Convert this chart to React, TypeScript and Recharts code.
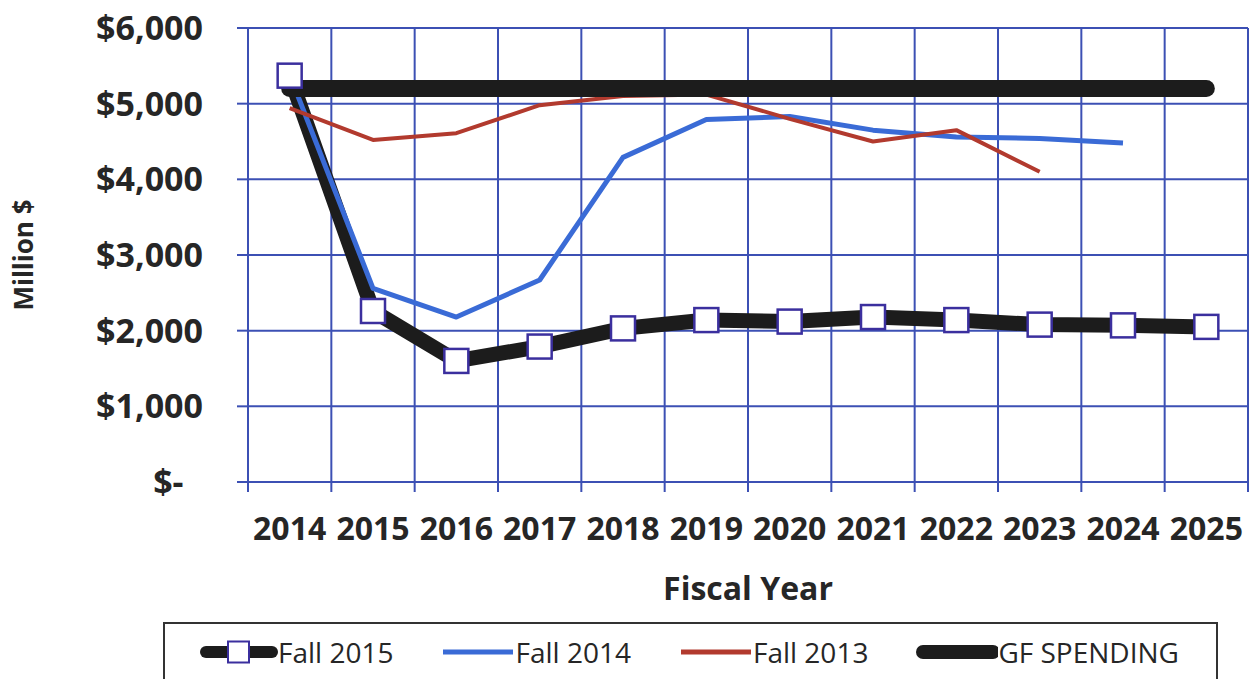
import React from "react";
import {
  LineChart,
  Line,
  XAxis,
  YAxis,
  CartesianGrid,
  Legend,
} from "recharts";

const years = ["2014", "2015", "2016", "2017", "2018", "2019", "2020", "2021", "2022", "2023", "2024", "2025"];
const fall2015 = [5370, 2260, 1600, 1790, 2030, 2140, 2120, 2180, 2140, 2080, 2070, 2050];
const fall2014 = [5380, 2560, 2180, 2670, 4290, 4790, 4830, 4650, 4560, 4540, 4480, null];
const fall2013 = [4940, 4520, 4610, 4980, 5100, 5120, 4800, 4500, 4650, 4100, null, null];
const gfSpending = [5200, 5200, 5200, 5200, 5200, 5200, 5200, 5200, 5200, 5200, 5200, 5200];
const yTicks = [0, 1000, 2000, 3000, 4000, 5000, 6000];
const seriesNames = ["Fall 2015", "Fall 2014", "Fall 2013", "GF SPENDING"];

const data = years.map((year, i) => ({
  year,
  slot: i + 0.5,
  "Fall 2015": fall2015[i],
  "Fall 2014": fall2014[i],
  "Fall 2013": fall2013[i],
  "GF SPENDING": gfSpending[i],
}));

// boundaries between the year categories, for the grid and tick marks
const gridTicks = years.map((_, i) => i).concat(years.length);

const FONT = "'Open Sans', sans-serif";
const GRID = "#3c50b4";
const BLUE = "#3a6bd6";
const RED = "#b23a2e";
const BLACK = "#1c1c1c";
const MARKER = "#3b2f9e";
const TEXT = "#262626";

const formatMoney = (v: number) =>
  v === 0 ? "$-\u2007" : "$" + v.toLocaleString("en-US");

const NoLabel = () => <g />;

const SquareDot = (props: any) => {
  const { cx, cy, index } = props;
  if (cx == null || cy == null) return null;
  return (
    <rect
      key={"sq" + index}
      x={cx - 12}
      y={cy - 12}
      width={24}
      height={24}
      fill="#ffffff"
      stroke={MARKER}
      strokeWidth={2.5}
    />
  );
};

const legendIcon = (name: string) => {
  if (name === "Fall 2015") {
    return (
      <svg width={78} height={26}>
        <line x1={6} y1={13} x2={72} y2={13} stroke={BLACK} strokeWidth={12} strokeLinecap="round" />
        <rect x={28} y={2.5} width={21} height={21} fill="#fff" stroke={MARKER} strokeWidth={2} />
      </svg>
    );
  }
  if (name === "GF SPENDING") {
    return (
      <svg width={82} height={26}>
        <line x1={7} y1={13} x2={77} y2={13} stroke={BLACK} strokeWidth={14} strokeLinecap="round" />
      </svg>
    );
  }
  return (
    <svg width={74} height={26}>
      <line x1={2} y1={13} x2={72} y2={13} stroke={name === "Fall 2014" ? BLUE : RED} strokeWidth={5} />
    </svg>
  );
};

const LegendBox = (props: any) => {
  const { payload = [] } = props;
  const items = [...payload].sort(
    (a: any, b: any) => seriesNames.indexOf(a.value) - seriesNames.indexOf(b.value)
  );
  return (
    <div
      style={{
        boxSizing: "border-box",
        width: 1055,
        height: 57,
        border: "2px solid #333",
        borderBottom: "none",
        display: "flex",
        alignItems: "center",
        paddingLeft: 35,
        fontFamily: FONT,
        fontSize: 28,
        color: TEXT,
        whiteSpace: "nowrap",
      }}
    >
      {items.map((entry: any) => (
        <span
          key={entry.value}
          style={{ display: "flex", alignItems: "center", marginRight: 48, flexShrink: 0 }}
        >
          {legendIcon(entry.value)}
          <span style={{ lineHeight: 1 }}>{entry.value}</span>
        </span>
      ))}
    </div>
  );
};

export default function App() {
  return (
    <div style={{ position: "absolute", left: 0, top: 0, background: "#fff" }}>
      <LineChart
        width={1252}
        height={679}
        data={data}
        margin={{ top: 28, right: 4, left: 0, bottom: 71 }}
      >
        <XAxis
          xAxisId="grid"
          dataKey="slot"
          type="number"
          domain={[0, years.length]}
          allowDataOverflow
          ticks={gridTicks}
          interval={0}
          height={1}
          tick={NoLabel}
          tickSize={10}
          tickLine={{ stroke: GRID, strokeWidth: 2 }}
          axisLine={false}
        />
        <XAxis
          xAxisId="years"
          dataKey="year"
          scale="band"
          height={125}
          tickLine={false}
          axisLine={false}
          tickSize={10}
          tickMargin={24}
          interval={0}
          tick={{ fontFamily: FONT, fontSize: 32, fontWeight: 700, fill: TEXT }}
          label={{
            value: "Fiscal Year",
            position: "insideBottom",
            offset: 8,
            style: { fontFamily: FONT, fontSize: 32, fontWeight: 700, fill: TEXT },
          }}
        />
        <YAxis
          width={248}
          domain={[0, 6000]}
          ticks={yTicks}
          tickFormatter={formatMoney}
          tickSize={11}
          tickMargin={34}
          tickLine={{ stroke: GRID, strokeWidth: 2 }}
          axisLine={false}
          tick={{ fontFamily: FONT, fontSize: 34, fontWeight: 700, fill: TEXT }}
          label={{
            value: "Million $",
            angle: -90,
            position: "insideLeft",
            offset: 24,
            style: { textAnchor: "middle", fontFamily: FONT, fontSize: 26, fontWeight: 700, fill: TEXT },
          }}
        />
        <CartesianGrid xAxisId="grid" stroke={GRID} strokeWidth={2} />
        <Legend
          layout="horizontal"
          verticalAlign="middle"
          align="center"
          itemSorter={null}
          width={1055}
          wrapperStyle={{ left: 163, top: 622, width: 1055, height: 57 }}
          content={<LegendBox />}
        />
        <Line
          xAxisId="years"
          dataKey="Fall 2015"
          stroke={BLACK}
          strokeWidth={15}
          strokeLinejoin="round"
          dot={SquareDot}
          activeDot={false}
          isAnimationActive={false}
        />
        <Line
          xAxisId="years"
          dataKey="Fall 2014"
          stroke={BLUE}
          strokeWidth={5}
          strokeLinejoin="round"
          dot={false}
          activeDot={false}
          isAnimationActive={false}
        />
        <Line
          xAxisId="years"
          dataKey="Fall 2013"
          stroke={RED}
          strokeWidth={4}
          strokeLinejoin="round"
          dot={false}
          activeDot={false}
          isAnimationActive={false}
        />
        <Line
          xAxisId="years"
          dataKey="GF SPENDING"
          stroke={BLACK}
          strokeWidth={17}
          strokeLinecap="round"
          dot={false}
          activeDot={false}
          isAnimationActive={false}
        />
      </LineChart>
    </div>
  );
}
